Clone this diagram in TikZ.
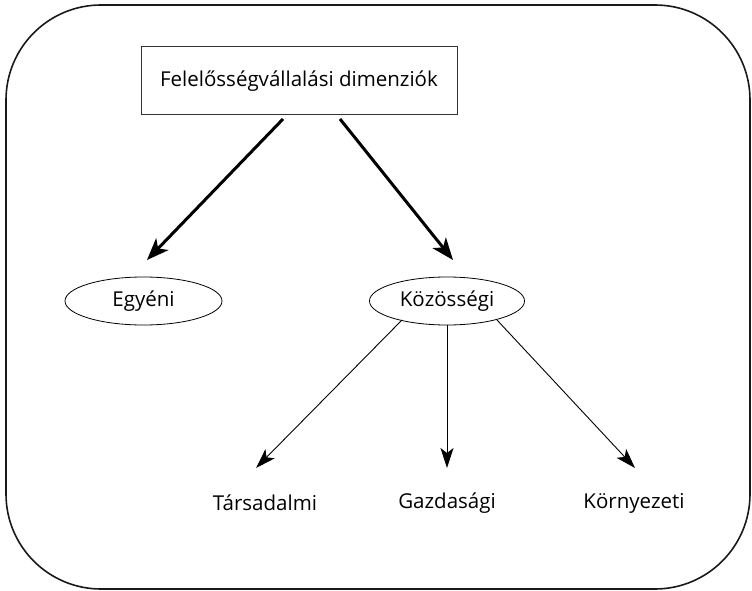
\documentclass[tikz,border=0pt]{standalone}
\usepackage{fontspec}
\setmainfont{Open Sans}
\usetikzlibrary{arrows.meta,shapes.geometric,calc}
\begin{document}
\begin{tikzpicture}[x=1pt,y=-1pt,
  lbl/.style={font=\fontsize{20.5}{24}\selectfont, inner sep=0pt},
  topbox/.style={draw=black!80, line width=1pt, minimum width=316pt, minimum height=68pt, lbl},
  oval/.style={draw=black, ellipse, line width=0.8pt, lbl},
  bigarrow/.style={line width=3pt, -{Stealth[length=22pt,width=17pt,inset=6pt]}},
  smallarrow/.style={line width=0.9pt, -{Stealth[length=20pt,width=13pt,inset=5pt]}},
  frame/.style={draw=black!90, line width=1.6pt, rounded corners=95pt}]
\useasboundingbox (0,0) rectangle (752,591);
\draw[frame] (6,5) rectangle (750,589);
\node[topbox] (top) at (299,81) {Felelősségvállalási dimenziók};
\node[oval, minimum width=157pt, minimum height=48pt] (egy) at (143.5,301) {Egyéni};
\node[oval, minimum width=155pt, minimum height=48pt] (koz) at (447,301) {Közösségi};
\node[lbl] (tar) at (265,503) {Társadalmi};
\node[lbl] (gaz) at (447,503) {Gazdasági};
\node[lbl] (kor) at (634,503) {Környezeti};
\coordinate (s1) at (283,119);
\coordinate (t1) at (147,260);
\coordinate (s2) at (340,119);
\coordinate (t2) at (453,260);
\coordinate (s3) at (402,320);
\coordinate (t3) at (256,468);
\coordinate (t4) at (447,468);
\coordinate (s5) at (497,320);
\coordinate (t5) at (635,468);
\draw[bigarrow] (s1) -- (t1);
\draw[bigarrow] (s2) -- (t2);
\draw[smallarrow] (s3) -- (t3);
\draw[smallarrow] (koz.south) -- (t4);
\draw[smallarrow] (s5) -- (t5);
\end{tikzpicture}
\end{document}
